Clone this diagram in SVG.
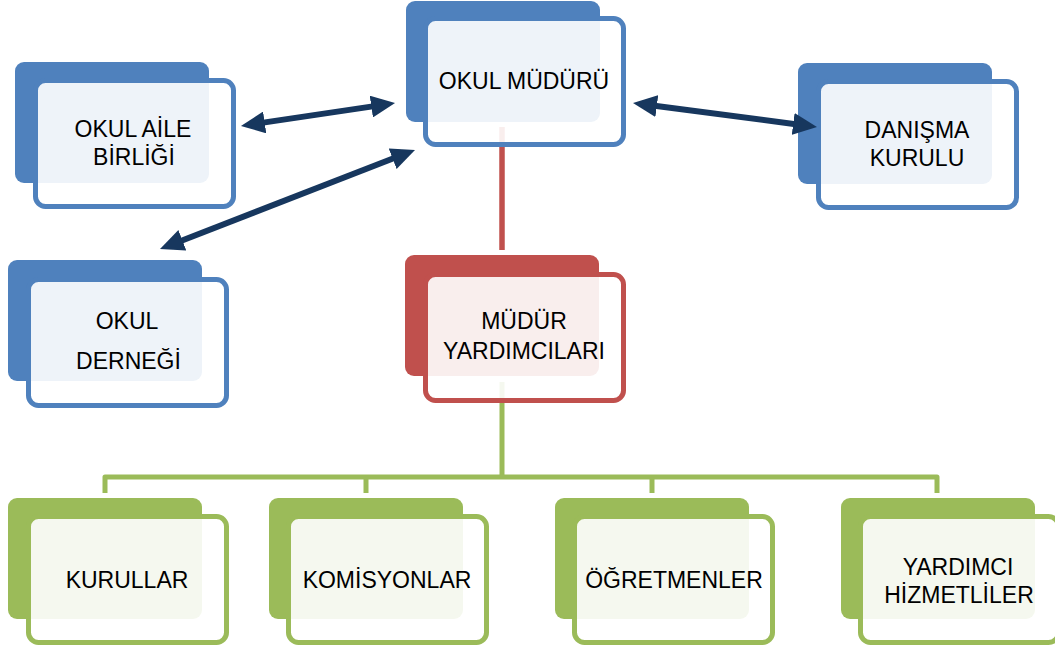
<svg xmlns="http://www.w3.org/2000/svg" width="1055" height="647" viewBox="0 0 1055 647">
  <style>
    .back { stroke: none; }
    .front { fill: #ffffff; fill-opacity: 0.9; stroke-width: 5; }
    .blue .back { fill: #4F81BD; }
    .blue .front { stroke: #4F81BD; }
    .red .back { fill: #C0504D; }
    .red .front { stroke: #C0504D; }
    .green .back { fill: #9BBB59; }
    .green .front { stroke: #9BBB59; }
    .label { font-family: "Liberation Sans", Arial, sans-serif; font-size: 23px; fill: #000000; text-anchor: middle; }
    .arrow { stroke: #17375E; stroke-width: 6; fill: none; marker-start: url(#head); marker-end: url(#head); }
  </style>
  <defs>
    <marker id="head" viewBox="0 0 24 22" markerWidth="24" markerHeight="22" markerUnits="userSpaceOnUse" refX="10" refY="11" orient="auto-start-reverse">
      <path d="M0,0 L24,11 L0,22 Z" fill="#17375E"/>
    </marker>
  </defs>
  <rect x="0" y="0" width="1055" height="647" fill="#ffffff"/>

  <g id="connectors">
    <path d="M502,127 V250" stroke="#C0504D" stroke-width="5.5" fill="none"/>
    <path d="M502,382 V477 M105,493 V477 H937 V493 M366,477 V493 M652,477 V493" stroke="#9BBB59" stroke-width="5" fill="none" stroke-linejoin="round"/>
  </g>

  <g id="okul-muduru" class="blue">
    <rect class="back" x="406" y="1" width="194" height="121" rx="9"/>
    <rect class="front" x="425.5" y="18.5" width="198" height="126" rx="10"/>
    <text class="label" x="524" y="89">OKUL MÜDÜRÜ</text>
  </g>

  <g id="okul-aile-birligi" class="blue">
    <rect class="back" x="15" y="62" width="194" height="121" rx="9"/>
    <rect class="front" x="35.5" y="80.5" width="198" height="126" rx="10"/>
    <text class="label" x="133" y="137">OKUL AİLE</text>
    <text class="label" x="134" y="165">BİRLİĞİ</text>
  </g>

  <g id="okul-dernegi" class="blue">
    <rect class="back" x="8" y="260" width="194" height="121" rx="9"/>
    <rect class="front" x="28.5" y="279.5" width="198" height="126" rx="10"/>
    <text class="label" x="127" y="329">OKUL</text>
    <text class="label" x="128.5" y="369">DERNEĞİ</text>
  </g>

  <g id="danisma-kurulu" class="blue">
    <rect class="back" x="798" y="63" width="194" height="121" rx="9"/>
    <rect class="front" x="818.5" y="81.5" width="198" height="126" rx="10"/>
    <text class="label" x="917" y="138">DANIŞMA</text>
    <text class="label" x="917" y="166">KURULU</text>
  </g>

  <g id="mudur-yardimcilari" class="red">
    <rect class="back" x="405" y="255" width="194" height="121" rx="9"/>
    <rect class="front" x="425.5" y="274.5" width="198" height="126" rx="10"/>
    <text class="label" x="524" y="329">MÜDÜR</text>
    <text class="label" x="524" y="359">YARDIMCILARI</text>
  </g>

  <g id="kurullar" class="green">
    <rect class="back" x="8" y="498" width="194" height="121" rx="9"/>
    <rect class="front" x="28.5" y="516.5" width="198" height="126" rx="10"/>
    <text class="label" x="127" y="588">KURULLAR</text>
  </g>

  <g id="komisyonlar" class="green">
    <rect class="back" x="269" y="498" width="194" height="121" rx="9"/>
    <rect class="front" x="288.5" y="516.5" width="198" height="126" rx="10"/>
    <text class="label" x="387" y="588">KOMİSYONLAR</text>
  </g>

  <g id="ogretmenler" class="green">
    <rect class="back" x="555" y="498" width="194" height="121" rx="9"/>
    <rect class="front" x="574.5" y="516.5" width="198" height="126" rx="10"/>
    <text class="label" x="674" y="588">ÖĞRETMENLER</text>
  </g>

  <g id="yardimci-hizmetliler" class="green">
    <rect class="back" x="841" y="498" width="194" height="121" rx="9"/>
    <rect class="front" x="860.5" y="516.5" width="198" height="126" rx="10"/>
    <text class="label" x="958" y="575">YARDIMCI</text>
    <text class="label" x="959" y="603">HİZMETLİLER</text>
  </g>

  <g id="arrow-connectors">
    <line class="arrow" x1="254.8" y1="123.9" x2="381.2" y2="105.1"/>
    <line class="arrow" x1="173.05" y1="243.93" x2="401.95" y2="155.07"/>
    <line class="arrow" x1="646.9" y1="104.8" x2="803.1" y2="125.2"/>
  </g>
</svg>
